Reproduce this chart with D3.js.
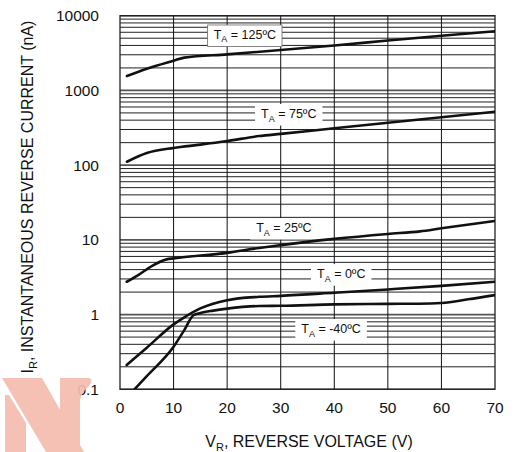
<!DOCTYPE html>
<html>
<head>
<meta charset="utf-8">
<script src="https://cdn.jsdelivr.net/npm/d3@7"></script>
<style>
  body { margin: 0; background: #fff; }
  text { font-family: Arial, "Liberation Sans", sans-serif; fill: #111; }
</style>
</head>
<body>
<div id="main"></div>
<script>
// reverse current vs reverse voltage, one pair of arrays per temperature
const vr125 = [1.3, 5, 10, 12, 20, 30, 40, 50, 60, 70];
const ir125 = [1560, 1950, 2500, 2750, 3040, 3470, 4000, 4650, 5400, 6200];

const vr75 = [1.3, 5, 10, 15, 20, 26, 30, 40, 50, 60, 70];
const ir75 = [111, 145, 170, 188, 210, 245, 262, 311, 369, 438, 519];

const vr25 = [1.25, 3.4, 6, 8.7, 10, 20, 26, 30, 40, 50, 56, 60, 70];
const ir25 = [2.75, 3.38, 4.5, 5.48, 5.65, 6.7, 7.8, 8.5, 10.3, 12.0, 13.0, 14.3, 17.9];

const vr0 = [1.25, 5, 10, 12, 15, 20, 26, 30, 40, 50, 60, 70];
const ir0 = [0.211, 0.36, 0.74, 0.92, 1.21, 1.56, 1.73, 1.78, 1.96, 2.17, 2.42, 2.75];

const vrm40 = [2.7, 5, 10, 12, 13.7, 15, 17.4, 20, 26, 30, 40, 50, 58, 60, 65, 70];
const irm40 = [0.1, 0.15, 0.37, 0.62, 0.98, 1.05, 1.13, 1.2, 1.3, 1.31, 1.37, 1.39, 1.41, 1.43, 1.6, 1.82];

const xTicks = [0, 10, 20, 30, 40, 50, 60, 70];
const yTicks = [0.1, 1, 10, 100, 1000, 10000];
const yTickLabels = ["0.1", "1", "10", "100", "1000", "10000"];

// label: temperature text, V and I at its centre
const tempLabels = ["125ºC", "75ºC", "25ºC", "0ºC", "-40ºC"];
const labelV = [23.3, 31.5, 30.6, 41.3, 39.4];
const labelI = [5520, 483, 14.4, 3.48, 0.64];

const width = 521, height = 452;
const x0 = 120, x1 = 495, y0 = 15.7, y1 = 389.3;

const svg = d3.select("#main").append("svg")
  .attr("width", width)
  .attr("height", height);

const x = d3.scaleLinear().domain([0, 70]).range([x0, x1]);
const y = d3.scaleLog().domain([0.1, 10000]).range([y1, y0]);

// grid
const minor = [];
[0.1, 1, 10, 100, 1000].forEach(d => {
  for (let m = 1; m <= 9; m++) minor.push(m * d);
});
minor.push(10000);

svg.append("g").selectAll("line")
  .data(minor)
  .join("line")
  .attr("x1", x0).attr("x2", x1)
  .attr("y1", d => y(d)).attr("y2", d => y(d))
  .attr("stroke", (d, i) => (i % 9 === 0) ? "#555" : "#222")
  .attr("stroke-width", (d, i) => (i % 9 === 0) ? 1.6 : 1);

svg.append("g").selectAll("line")
  .data(xTicks.slice(1, -1))
  .join("line")
  .attr("x1", d => x(d)).attr("x2", d => x(d))
  .attr("y1", y0).attr("y2", y1)
  .attr("stroke", "#111")
  .attr("stroke-width", 1);

svg.append("rect")
  .attr("x", x0).attr("y", y0)
  .attr("width", x1 - x0).attr("height", y1 - y0)
  .attr("fill", "none")
  .attr("stroke", "#222")
  .attr("stroke-width", 1.3);

// label boxes sit on top of the grid
const labels = svg.append("g");
tempLabels.forEach((t, i) => {
  const g = labels.append("g");
  const txt = g.append("text")
    .attr("x", x(labelV[i]))
    .attr("y", y(labelI[i]) + 4)
    .attr("text-anchor", "middle")
    .style("font-size", "12.5px");
  txt.append("tspan").text("T");
  txt.append("tspan").text("A").style("font-size", "9px").attr("dy", 3.5);
  txt.append("tspan").text(" = " + t).attr("dy", -3.5);
  const b = txt.node().getBBox();
  g.insert("rect", "text")
    .attr("x", b.x - 6).attr("y", b.y - 3)
    .attr("width", b.width + 12).attr("height", b.height + 5)
    .attr("fill", "#fff")
    .attr("stroke", i === 0 ? "#666" : "none")
    .attr("stroke-width", 0.8);
});

// curves
svg.append("clipPath").attr("id", "plot")
  .append("rect").attr("x", x0).attr("y", y0)
  .attr("width", x1 - x0).attr("height", y1 - y0);

const line = d3.line()
  .x(d => x(d[0]))
  .y(d => y(d[1]))
  .curve(d3.curveMonotoneX);

const series = [[vr125, ir125], [vr75, ir75], [vr25, ir25], [vr0, ir0], [vrm40, irm40]];
svg.append("g").attr("clip-path", "url(#plot)")
  .selectAll("path")
  .data(series.map(s => s[0].map((v, i) => [v, s[1][i]])))
  .join("path")
  .attr("d", line)
  .attr("fill", "none")
  .attr("stroke", "#111")
  .attr("stroke-width", 2.6)
  .attr("stroke-linecap", "round");

// tick labels
svg.append("g").selectAll("text")
  .data(yTicks)
  .join("text")
  .attr("x", 99)
  .attr("y", d => y(d) + 5.5)
  .attr("text-anchor", "end")
  .style("font-size", "15.5px")
  .text((d, i) => yTickLabels[i]);

svg.append("g").selectAll("text")
  .data(xTicks)
  .join("text")
  .attr("x", d => x(d))
  .attr("y", 412.5)
  .attr("text-anchor", "middle")
  .style("font-size", "15.5px")
  .text(d => d);

// axis titles
const xt = svg.append("text")
  .attr("x", 309).attr("y", 447)
  .attr("text-anchor", "middle")
  .style("font-size", "16px");
xt.append("tspan").text("V");
xt.append("tspan").text("R").style("font-size", "11px").attr("dy", 4);
xt.append("tspan").text(", REVERSE VOLTAGE (V)").attr("dy", -4);

const yt = svg.append("text")
  .attr("transform", "translate(32.5,197) rotate(-90)")
  .attr("text-anchor", "middle")
  .style("font-size", "16px");
yt.append("tspan").text("I");
yt.append("tspan").text("R").style("font-size", "11px").attr("dy", 4);
yt.append("tspan").text(", INSTANTANEOUS REVERSE CURRENT (nA)").attr("dy", -4);

// watermark logo in the lower left corner
const wm = svg.append("g").attr("fill", "#f5bcae").attr("opacity", 0.92);
wm.append("path").attr("d", "M5,395 L9,395 L26,423 L26,452 L5,452 Z");
wm.append("path").attr("d", "M2,378 L42,378 L84,452 L46,452 Z");
wm.append("path").attr("d", "M60,378 L89,378 Q94,380 89,386 Q82,392 80,400 L80,446 L60,446 Z");
</script>
</body>
</html>
